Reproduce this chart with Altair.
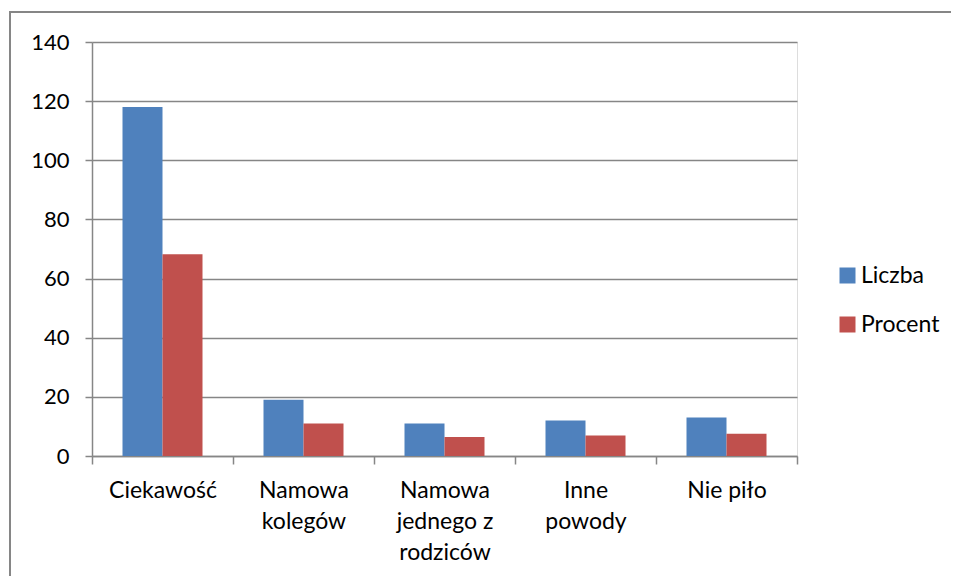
import altair as alt
import pandas as pd

categories = ["Ciekawość", "Namowa\nkolegów", "Namowa\njednego z\nrodziców", "Inne\npowody", "Nie piło"]
liczba = [118, 19, 11, 12, 13]
procent = [68.2, 11.0, 6.4, 6.9, 7.5]
series = ["Liczba", "Procent"]
colors = ["#4F81BD", "#C0504D"]

rows = []
for c, l, p in zip(categories, liczba, procent):
    rows.append({"Kategoria": c, "Seria": series[0], "Wartość": l})
    rows.append({"Kategoria": c, "Seria": series[1], "Wartość": p})
df = pd.DataFrame(rows)

FONT = "Lato"
GRAY = "#868686"

one = pd.DataFrame({"a": [0]})
frame_top = alt.Chart(one).mark_rule(stroke=GRAY, strokeWidth=2).encode(
    x=alt.value(-82), x2=alt.value(900), y=alt.value(-30), y2=alt.value(-30)
)
frame_left = alt.Chart(one).mark_rule(stroke=GRAY, strokeWidth=2).encode(
    x=alt.value(-82), x2=alt.value(-82), y=alt.value(-31), y2=alt.value(600)
)

bars = alt.Chart(df).mark_bar().encode(
    x=alt.X(
        "Kategoria:N",
        sort=categories,
        title=None,
        scale=alt.Scale(paddingInner=0, paddingOuter=0),
        axis=alt.Axis(
            labelAngle=0,
            labelExpr="split(datum.label, '\\n')",
            labelLineHeight=31,
            labelFont=FONT,
            labelFontSize=23,
            labelColor="#000000",
            labelPadding=15,
            labelBaseline="top",
            tickBand="extent",
            tickSize=8,
            tickColor=GRAY,
            tickWidth=1.5,
            domainColor=GRAY,
            domainWidth=1.5,
            grid=False,
        ),
    ),
    xOffset=alt.XOffset("Seria:N", sort=series, scale=alt.Scale(paddingInner=0, paddingOuter=0.7625)),
    y=alt.Y(
        "Wartość:Q",
        title=None,
        scale=alt.Scale(domain=[0, 140], nice=False),
        axis=alt.Axis(
            values=[0, 20, 40, 60, 80, 100, 120, 140],
            labelFont=FONT,
            labelFontSize=22,
            labelColor="#000000",
            labelPadding=16,
            tickSize=7,
            tickColor=GRAY,
            tickWidth=1.5,
            domainColor=GRAY,
            domainWidth=1.5,
            gridColor=GRAY,
            gridWidth=1.5,
        ),
    ),
    color=alt.Color(
        "Seria:N",
        sort=series,
        scale=alt.Scale(domain=series, range=colors),
        legend=alt.Legend(
            title=None,
            orient="none",
            legendX=744,
            legendY=222,
            symbolType="square",
            symbolSize=256,
            symbolStrokeWidth=0,
            labelFont=FONT,
            labelFontSize=23,
            labelColor="#000000",
            rowPadding=25,
            labelOffset=2,
        ),
    ),
)

chart = alt.layer(frame_top, frame_left, bars).properties(
    width=705,
    height=414,
    autosize=alt.AutoSizeParams(type="none"),
    padding={"left": 84, "top": 34, "right": 154, "bottom": 120},
).configure_view(stroke=None).configure(background="white")

chart.save("out.html", embed_options={"renderer": "svg", "actions": False})
